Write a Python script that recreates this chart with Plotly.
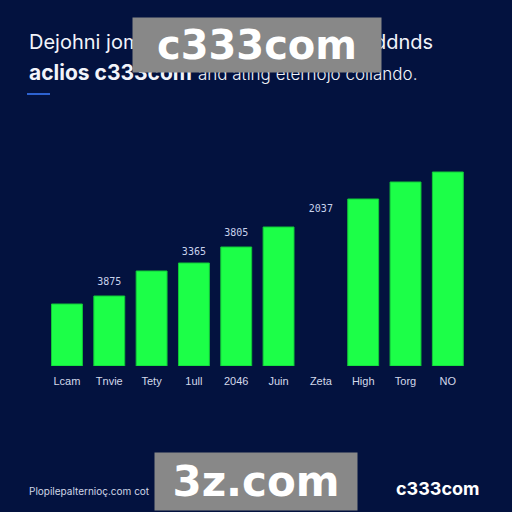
import plotly.graph_objects as go

categories = ["Lcam", "Tnvie", "Tety", "1ull", "2046", "Juin", "Zeta", "High", "Torg", "NO"]
values = [62, 70, 95, 103, 119, 139, None, 167, 184, 194]
label_cats = ["Tnvie", "1ull", "2046", "Zeta", "NO"]
label_texts = ["3875", "3365", "3805", "2037", "2856"]
label_vals = [84, 114, 133, 157, 205]

BG = "#03123f"
GREEN = "#1cff48"

fig = go.Figure()
fig.add_trace(go.Bar(
    x=categories, y=values,
    marker=dict(color=GREEN, line=dict(color="#10c838", width=1)),
    hoverinfo="skip",
))
fig.add_trace(go.Scatter(
    x=label_cats, y=label_vals, mode="text", text=label_texts,
    textfont=dict(family="DejaVu Sans Mono", size=10, color="#c9d2ec"),
    hoverinfo="skip",
))

shapes = [
    dict(type="line", xref="paper", yref="paper", x0=27/512, x1=50/512,
         y0=1-94/512, y1=1-94/512, line=dict(color="#2d62d0", width=2)),
]

annotations = [
    dict(x=27/512, y=1-42/512, xref="paper", yref="paper", xanchor="left", yanchor="middle",
         text="Dejohni jomtar growth by sanelka ra ddnds", showarrow=False,
         font=dict(family="Inter", size=20, color="#f2f4fa")),
    dict(x=27/512, y=1-72/512, xref="paper", yref="paper", xanchor="left", yanchor="middle",
         text="<b>aclios c333com</b> <span style='font-size:17px;font-weight:300'>and ating eternojo collando.</span>",
         showarrow=False,
         font=dict(family="Inter", size=21, color="#f2f4fa")),
    dict(x=27/512, y=1-491/512, xref="paper", yref="paper", xanchor="left", yanchor="middle",
         text="Plopilepalternioç.com cot", showarrow=False,
         font=dict(family="Inter", size=10, color="#d0d6e6")),
    dict(x=438/512, y=1-488/512, xref="paper", yref="paper", xanchor="center", yanchor="middle",
         text="<b>c333com</b>", showarrow=False,
         font=dict(family="Inter", size=18, color="#ffffff")),
    # watermark overlays
    dict(x=257/512, y=1-45/512, xref="paper", yref="paper", xanchor="center", yanchor="middle",
         text="<b>c333com</b>", showarrow=False, width=248, height=54,
         bgcolor="#888888", borderpad=0,
         font=dict(family="DejaVu Sans", size=40, color="#ffffff")),
    dict(x=256/512, y=1-481/512, xref="paper", yref="paper", xanchor="center", yanchor="middle",
         text="<b>3z.com</b>", showarrow=False, width=202, height=57,
         bgcolor="#888888", borderpad=0,
         font=dict(family="DejaVu Sans", size=42, color="#ffffff")),
]

fig.update_layout(
    width=512, height=512,
    margin=dict(l=0, r=0, t=0, b=0),
    paper_bgcolor=BG, plot_bgcolor=BG,
    showlegend=False,
    bargap=0.27,
    xaxis=dict(domain=[45.8/512, 469/512], range=[-0.5, 9.5],
               showgrid=False, zeroline=False, showline=False,
               ticks="outside", ticklen=5, tickcolor=BG,
               tickfont=dict(family="Liberation Sans", size=11, color="#d3d9ea"),
               fixedrange=True),
    yaxis=dict(domain=[1-366/512, 1-166/512], range=[0, 200],
               visible=False, fixedrange=True),
    shapes=shapes,
    annotations=annotations,
)

fig.write_html("out.html", config={"displayModeBar": False},
               post_script="document.body.style.margin='0';document.body.style.overflow='hidden';")
